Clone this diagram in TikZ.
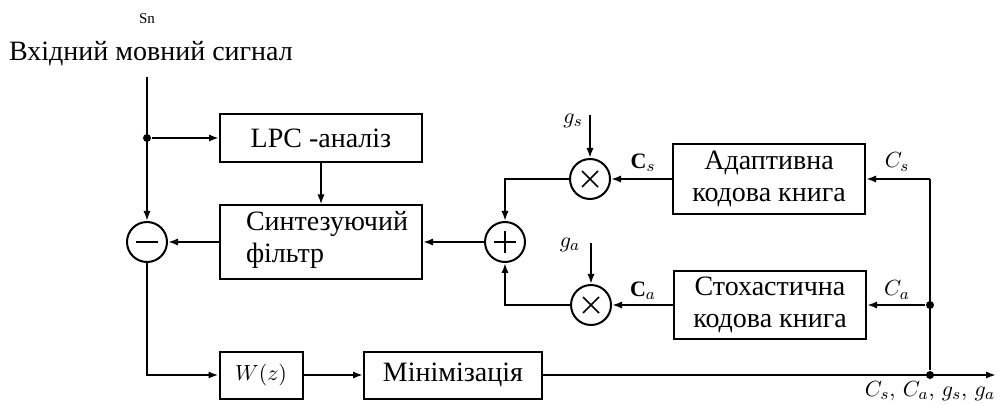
\documentclass[tikz,border=0pt]{standalone}
\usepackage{fontspec}
\setmainfont{Liberation Serif}
\usetikzlibrary{arrows.meta}
\begin{document}
\begin{tikzpicture}[x=0.5pt,y=-0.5pt,
  line width=1pt,
  arr/.style={-{Latex[length=5pt,width=3.6pt]}},
  blk/.style={draw, line width=1pt, inner sep=0pt, align=center, font=\fontsize{14}{16}\selectfont},
  op/.style={draw, circle, minimum size=20pt, inner sep=0pt},
  dot/.style={circle, fill, inner sep=0pt, minimum size=4pt},
  lab/.style={font=\fontsize{11}{13}\selectfont, inner sep=0pt},
  sym/.style={line width=0.8pt}
]
\useasboundingbox (0,0) rectangle (1004,405);
% title
\node[font=\fontsize{7.5}{8}\selectfont, inner sep=0pt] (sn) at (147,19) {Sn};
\node[font=\fontsize{14}{16}\selectfont, inner sep=0pt] (title) at (151,54) {Вхідний мовний сигнал};
% blocks
\node[blk, minimum width=101pt, minimum height=24pt] (lpc) at (321,138) {LPC -аналіз};
\node[blk, minimum width=101pt, minimum height=36.5pt] (syn) at (321,242) {};
\node[font=\fontsize{14}{16}\selectfont, align=left, inner sep=0pt, anchor=west] (syntext) at (245,240) {Синтезуючий\\фільтр};
\node[blk, minimum width=96pt, minimum height=35pt] (ada) at (769,179) {Адаптивна\\кодова книга};
\node[blk, minimum width=96pt, minimum height=34pt] (sto) at (770,305) {Стохастична\\кодова книга};
\node[blk, minimum width=41.5pt, minimum height=23.5pt, font=\fontsize{11}{13}\selectfont] (wz) at (261,375) {$W(z)$};
\node[blk, minimum width=89pt, minimum height=23.5pt] (mn) at (453,375) {Мінімізація};
% operators
\node[op] (minus) at (147,242) {};
\node[op] (plus) at (505,242) {};
\node[op] (ms) at (590,179) {};
\node[op] (ma) at (591,305) {};
\draw[sym] ([xshift=-5.5pt]minus.center) -- ([xshift=5.5pt]minus.center);
\draw[sym] ([xshift=-5.5pt]plus.center) -- ([xshift=5.5pt]plus.center);
\draw[sym] ([yshift=-5.5pt]plus.center) -- ([yshift=5.5pt]plus.center);
\draw[sym] ([shift={(-4pt,-4pt)}]ms.center) -- ([shift={(4pt,4pt)}]ms.center);
\draw[sym] ([shift={(-4pt,4pt)}]ms.center) -- ([shift={(4pt,-4pt)}]ms.center);
\draw[sym] ([shift={(-4pt,-4pt)}]ma.center) -- ([shift={(4pt,4pt)}]ma.center);
\draw[sym] ([shift={(-4pt,4pt)}]ma.center) -- ([shift={(4pt,-4pt)}]ma.center);
% coordinates
\coordinate (top) at (147,77);
\node[dot] (j1) at (147,138) {};
\coordinate (gs) at (590,115);
\coordinate (ga) at (591,243);
\coordinate (rt) at (930,179);
\node[dot] (j2) at (930,305) {};
\node[dot] (j3) at (930,375) {};
\coordinate (out) at (996,375);
% connectors
\draw[arr] (top) -- (minus.north);
\draw[arr] (j1) -- (lpc.west);
\draw[arr] (lpc.south) -- (syn.north);
\draw[arr] (syn.west) -- (minus.east);
\draw[arr] (plus.west) -- (syn.east);
\draw[arr] (ms.west) -| (plus.north);
\draw[arr] (ma.west) -| (plus.south);
\draw[arr] (ada.west) -- (ms.east);
\draw[arr] (sto.west) -- (ma.east);
\draw[arr] (gs) -- (ms.north);
\draw[arr] (ga) -- (ma.north);
\draw (j3) -- (rt);
\draw[arr] (rt) -- (ada.east);
\draw[arr] (j2) -- (sto.east);
\draw[arr] (minus.south) |- (wz.west);
\draw[arr] (wz.east) -- (mn.west);
\draw[arr] (mn.east) -- (out);
% labels
\node[lab] (lgs) at (573,121) {$g_s$};
\node[lab] (lga) at (570,245) {$g_a$};
\node[lab] (lcs1) at (643,163) {$\mathbf{C}_s$};
\node[lab] (lca1) at (643,291) {$\mathbf{C}_a$};
\node[lab] (lcs2) at (897,162) {$C_s$};
\node[lab] (lca2) at (897,290) {$C_a$};
\node[lab] (lout) at (930,391) {$C_s,\,C_a,\,g_s,\,g_a$};
\end{tikzpicture}
\end{document}
